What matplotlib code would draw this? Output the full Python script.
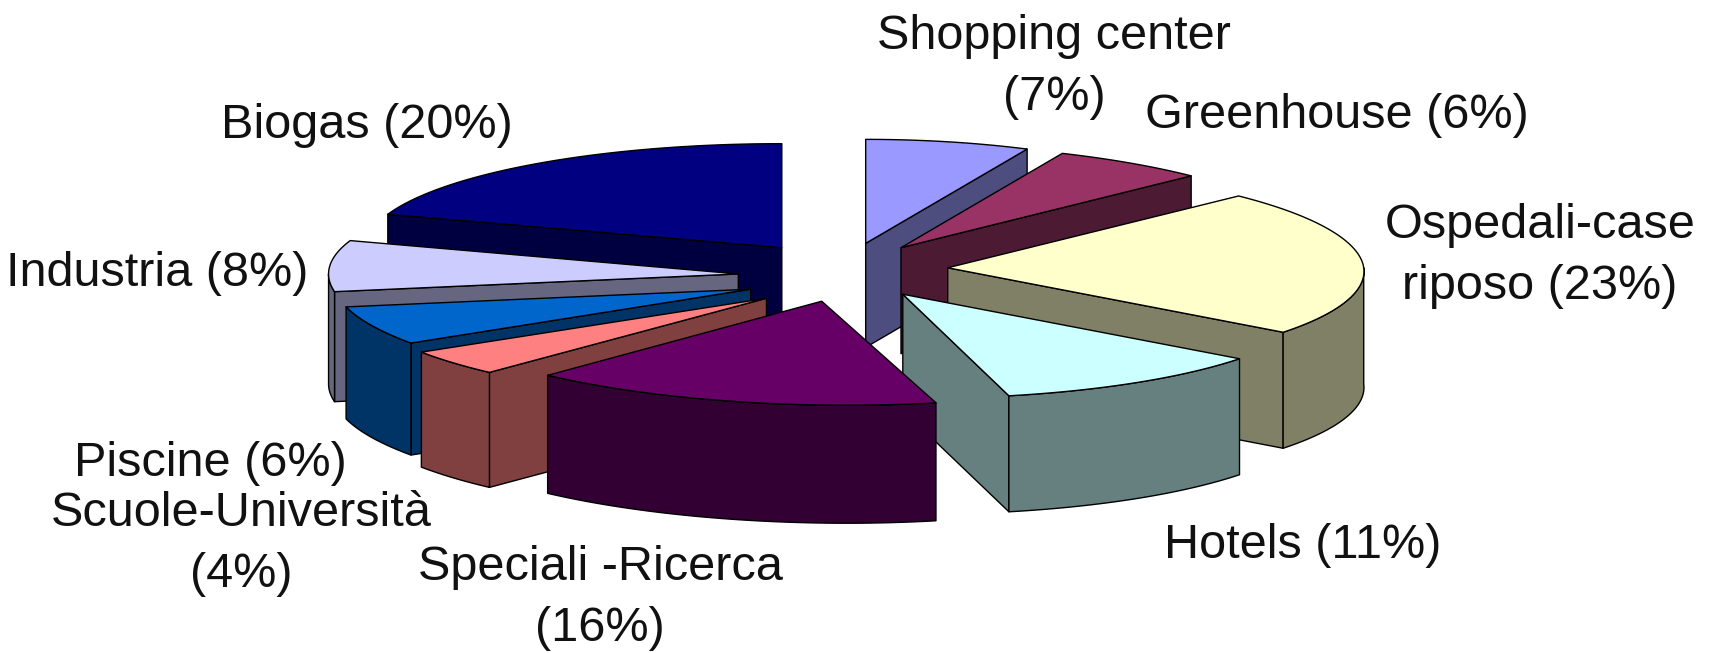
import matplotlib.pyplot as plt
from matplotlib.colors import to_rgb
from matplotlib.patches import Polygon
import numpy as np

# slices clockwise from 12 o'clock
sectores = ['Shopping center\n(7%)', 'Greenhouse (6%)', 'Ospedali-case\nriposo (23%)', 'Hotels (11%)',
            'Speciali -Ricerca\n(16%)', 'Scuole-Università\n(4%)', 'Piscine (6%)', 'Industria (8%)', 'Biogas (20%)']
valores = [7, 6, 23, 11, 16, 4, 6, 8, 20]
colores = ['#9999FF', '#993366', '#FFFFCC', '#CCFFFF', '#660066', '#FF8080', '#0066CC', '#CCCCFF', '#000080']
pos_etiquetas = [(1054, 67), (1337, 115), (1540, 256), (1303, 545), (600, 598),
                 (241, 544), (210, 463), (157, 273), (367, 126)]

# pie geometry, in pixels
CX, CY = 843, 269
RX, RY = 416, 104
EXPLODE = 105

# per-slice look of the oblique 3D view
alturas = [104, 106, 116, 116, 118, 115, 112, 110, 108]
cizalla = [0.0, 0.15, 0.14, 0.16, 0.24, 0.2, 0.3, 0.0, 0.0]
bajada = [0, 0, 0, 3, 7, 13, 11, 7, 0]
ancho = [0.92, 1, 1, 1, 1, 1, 1, 0.985, 1]


def dibujar_sector(ax, ini, fin, color, alto, s, dy, k):
    medio = (ini + fin) / 2
    cx = CX + EXPLODE * np.sin(medio)
    cy = CY - EXPLODE * RY / RX * np.cos(medio) + dy

    def proyectar(theta):
        # point on the tilted rim, theta clockwise from the top
        y = cy - RY * np.cos(theta)
        return cx + k * RX * np.sin(theta) + s * (y - CY), y

    ax_, ay_ = cx + s * (cy - CY), cy
    oscuro = tuple(c * 0.5 for c in to_rgb(color))
    estilo = dict(edgecolor='black', linewidth=1.0, joinstyle='round')

    # only the walls that face the viewer get drawn
    for ang, visible in ((ini, np.sin(ini) < -1e-6), (fin, np.sin(fin) > 1e-6)):
        if visible:
            x, y = proyectar(ang)
            ax.add_patch(Polygon([(ax_, ay_), (x, y), (x, y + alto), (ax_, ay_ + alto)],
                                 facecolor=oscuro, **estilo))
    a0, a1 = max(ini, np.pi / 2), min(fin, 3 * np.pi / 2)
    if a1 > a0:
        x, y = proyectar(np.linspace(a0, a1, 80))
        pared = np.r_[np.c_[x, y], np.c_[x, y + alto][::-1]]
        ax.add_patch(Polygon(pared, facecolor=oscuro, **estilo))

    x, y = proyectar(np.linspace(ini, fin, 120))
    ax.add_patch(Polygon(np.r_[[(ax_, ay_)], np.c_[x, y]], facecolor=color, **estilo))


fig = plt.figure(figsize=(17.19, 6.53), dpi=100)
ax = fig.add_axes([0, 0, 1, 1])
ax.set_xlim(0, 1719)
ax.set_ylim(653, 0)
ax.axis('off')

limites = np.r_[0, np.cumsum(valores)] / sum(valores) * 2 * np.pi
medios = (limites[:-1] + limites[1:]) / 2

# back slices first so the front ones cover them
for i in np.argsort(-np.cos(medios)):
    dibujar_sector(ax, limites[i], limites[i + 1], colores[i], alturas[i], cizalla[i], bajada[i], ancho[i])

for texto, (x, y) in zip(sectores, pos_etiquetas):
    ax.text(x, y, texto, ha='center', va='center', fontsize=35, family='Liberation Sans',
            color='#111111', linespacing=1.45)

fig.savefig('out.png', dpi=100)
plt.close(fig)
